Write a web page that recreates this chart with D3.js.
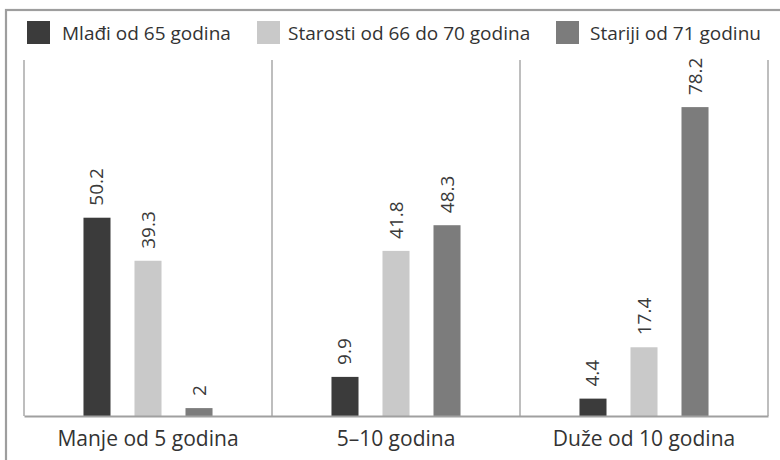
<!DOCTYPE html>
<html>
<head>
<meta charset="utf-8">
<script src="https://cdn.jsdelivr.net/npm/d3@7"></script>
<style>
  html, body { margin: 0; padding: 0; background: #fff; }
  svg { display: block; font-family: "Open Sans", sans-serif; }
</style>
</head>
<body>
<svg id="chart" width="780" height="460"></svg>
<script>
// Categories (time bands) and age-group series
const categories = ["Manje od 5 godina", "5–10 godina", "Duže od 10 godina"];
const seriesNames = ["Mlađi od 65 godina", "Starosti od 66 do 70 godina", "Stariji od 71 godinu"];
const seriesColors = ["#3b3b3b", "#c9c9c9", "#7c7c7c"];

// Percent values per series, one entry per category
const mladji = [50.2, 9.9, 4.4];
const starosti = [39.3, 41.8, 17.4];
const stariji = [2, 48.3, 78.2];
const seriesValues = [mladji, starosti, stariji];

const svg = d3.select("#chart");
const W = 780, H = 460;
const plot = { left: 24, right: 768, top: 21, bottom: 416 };

// Outer frame (top and left edges visible)
svg.append("rect")
  .attr("x", 6).attr("y", 10)
  .attr("width", W + 40).attr("height", H + 40)
  .attr("fill", "none")
  .attr("stroke", "#9e9e9e")
  .attr("stroke-width", 2.2);

const x0 = d3.scaleBand()
  .domain(categories)
  .range([plot.left, plot.right])
  .paddingInner(0).paddingOuter(0);

const x1 = d3.scaleBand()
  .domain(seriesNames)
  .range([0, x0.bandwidth()])
  .paddingInner(0.47)
  .paddingOuter(1.166);

const y = d3.scaleLinear().domain([0, 100]).range([plot.bottom, plot.top]);

// Panel separators
const seps = [plot.left, ...categories.slice(1).map(c => x0(c)), plot.right];
svg.append("g").selectAll("line")
  .data(seps)
  .join("line")
  .attr("x1", d => d).attr("x2", d => d)
  .attr("y1", 60).attr("y2", plot.bottom)
  .attr("stroke", "#a8a8a8")
  .attr("stroke-width", 1.5);

// Bars and rotated value labels
const rows = [];
categories.forEach((c, ci) => {
  seriesNames.forEach((s, si) => {
    rows.push({ cat: c, series: s, si, value: seriesValues[si][ci] });
  });
});

const g = svg.append("g");
g.selectAll("rect.bar")
  .data(rows)
  .join("rect")
  .attr("class", "bar")
  .attr("x", d => x0(d.cat) + x1(d.series))
  .attr("width", x1.bandwidth())
  .attr("y", d => y(d.value))
  .attr("height", d => y(0) - y(d.value))
  .attr("fill", d => seriesColors[d.si]);

g.selectAll("text.val")
  .data(rows)
  .join("text")
  .attr("class", "val")
  .attr("transform", d => {
    const cx = x0(d.cat) + x1(d.series) + x1.bandwidth() / 2;
    const ty = y(d.value) - 12;
    return `translate(${cx + 6.5},${ty}) rotate(-90)`;
  })
  .attr("text-anchor", "start")
  .attr("font-size", 19)
  .attr("fill", "#3a3a3a")
  .text(d => d.value);

// Baseline (x axis)
const xAxis = d3.axisBottom(x0).tickSize(0).tickPadding(15);
const ax = svg.append("g")
  .attr("transform", `translate(0,${plot.bottom})`)
  .call(xAxis);
ax.select(".domain").attr("stroke", "#a0a0a0").attr("stroke-width", 2);
ax.selectAll("text")
  .attr("font-size", 21)
  .attr("font-family", "'Open Sans', sans-serif")
  .attr("fill", "#333");

// Legend
const legendBox = [27, 257, 556];
const legendText = [62, 288, 590];
const leg = svg.append("g").selectAll("g")
  .data(seriesNames)
  .join("g");
leg.append("rect")
  .attr("x", (d, i) => legendBox[i]).attr("y", 21)
  .attr("width", 23).attr("height", 23)
  .attr("fill", (d, i) => seriesColors[i]);
leg.append("text")
  .attr("x", (d, i) => legendText[i]).attr("y", 40)
  .attr("font-size", 19)
  .attr("fill", "#333")
  .text(d => d);
</script>
</body>
</html>
